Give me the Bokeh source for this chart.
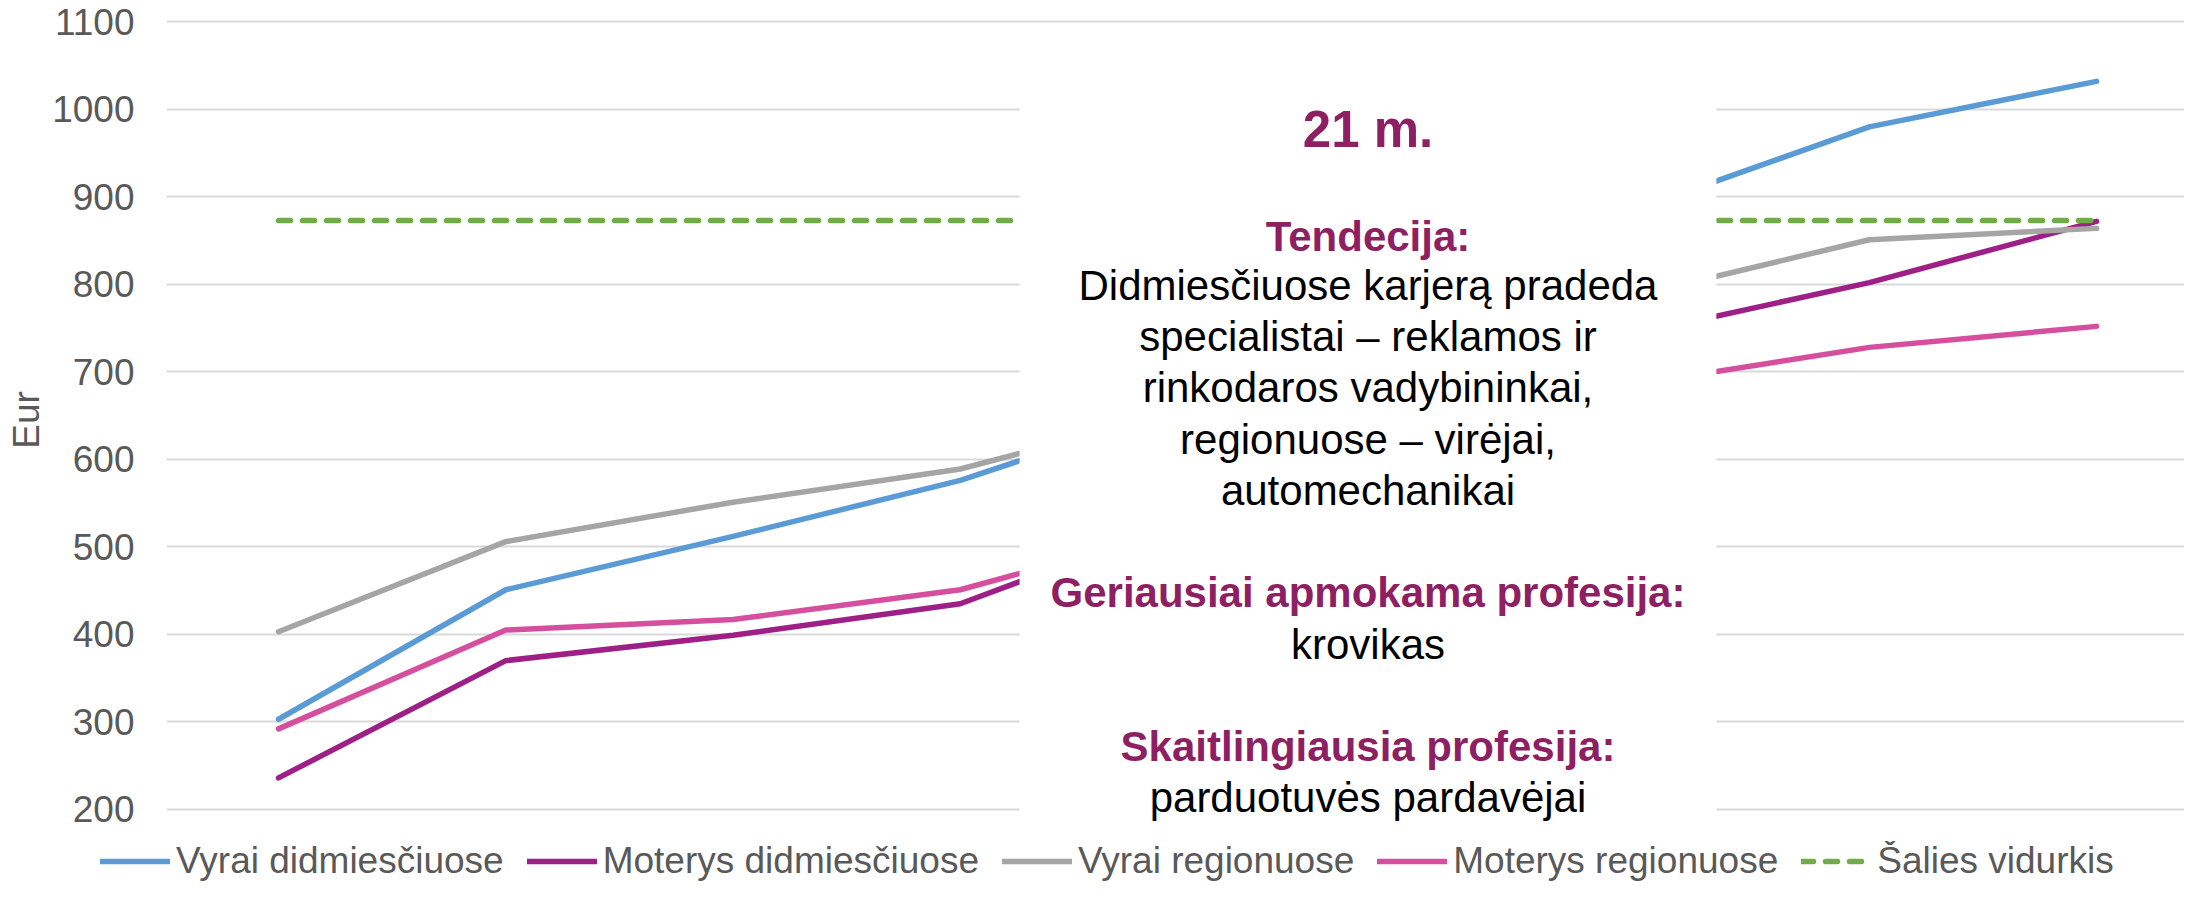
from bokeh.plotting import figure
from bokeh.layouts import column
from bokeh.models import (Range1d, FixedTicker, Legend, LegendItem, BoxAnnotation, Label)
from bokeh.embed import file_html
from bokeh.resources import INLINE

# ---------------- data ----------------
periods = [0, 1, 2, 3, 4, 5, 6, 7, 8]
vyrai_didm = [303, 451, 512, 576, 662, 772, 888, 980, 1032]
moterys_didm = [236, 370, 399, 435, 532, 640, 745, 802, 872]
vyrai_reg = [403, 506, 551, 589, 657, 722, 789, 851, 864]
moterys_reg = [292, 405, 417, 451, 522, 603, 687, 728, 752]
salies_vid = [873, 873, 873, 873, 873, 873, 873, 873, 873]
y_ticks = [200, 300, 400, 500, 600, 700, 800, 900, 1000, 1100]

series_names = ["Vyrai didmiesčiuose", "Moterys didmiesčiuose", "Vyrai regionuose",
                "Moterys regionuose", "Šalies vidurkis"]
series_colors = ["#5B9BD5", "#9E1F86", "#A5A5A5", "#D64F9E", "#70AD47"]
series_dash = ["solid", "solid", "solid", "solid", "12 12"]

box_title = "21 m."
box_lines = [
    ("Tendecija:", True),
    ("Didmiesčiuose karjerą pradeda", False),
    ("specialistai – reklamos ir", False),
    ("rinkodaros vadybininkai,", False),
    ("regionuose – virėjai,", False),
    ("automechanikai", False),
    ("Geriausiai apmokama profesija:", True),
    ("krovikas", False),
    ("Skaitlingiausia profesija:", True),
    ("parduotuvės pardavėjai", False),
]
box_line_y = [855, 798.6, 740.7, 682, 623, 564.3, 448, 388.5, 272, 213.7]

FONT = "Liberation Sans"
HEAD = "#8E1F63"
GREY_TXT = "#595959"

all_series = [vyrai_didm, moterys_didm, vyrai_reg, moterys_reg, salies_vid]

# ---------------- main chart ----------------
p = figure(width=2184, height=841, output_backend="svg", toolbar_location=None,
           x_range=Range1d(-0.493, 8.387), y_range=Range1d(185, 1105),
           min_border_left=166, min_border_right=0, min_border_top=17, min_border_bottom=19)
p.frame_align = False
p.outline_line_color = None
p.background_fill_color = "white"
p.border_fill_color = "white"

p.xaxis.visible = False
p.xgrid.visible = False

yax = p.yaxis[0]
yax.ticker = FixedTicker(ticks=y_ticks)
yax.axis_line_color = None
yax.major_tick_line_color = None
yax.minor_tick_line_color = None
yax.major_tick_out = 0
yax.major_tick_in = 0
yax.major_label_standoff = 32
yax.major_label_text_font = FONT
yax.major_label_text_font_size = "37px"
yax.major_label_text_color = GREY_TXT
yax.axis_label = "Eur"
yax.axis_label_text_font = FONT
yax.axis_label_text_font_size = "37px"
yax.axis_label_text_font_style = "normal"
yax.axis_label_text_color = GREY_TXT
yax.axis_label_standoff = 2

p.ygrid.ticker = FixedTicker(ticks=y_ticks)
p.ygrid.grid_line_color = "#D9D9D9"
p.ygrid.grid_line_width = 2

for ys, col, dash in zip(all_series, series_colors, series_dash):
    p.line(periods, ys, line_color=col, line_width=5.5, line_dash=dash,
           line_join="round", line_cap="round")

# white text box covering the middle
box = BoxAnnotation(left=3.261, right=6.327, top=1088, bottom=150,
                    fill_color="white", fill_alpha=1.0, line_color=None)
p.add_layout(box)

cx = (3.261 + 6.327) / 2
p.add_layout(Label(x=cx, y=977, text=box_title, text_align="center", text_baseline="alphabetic",
                   text_font=FONT, text_font_size="51px", text_font_style="bold", text_color=HEAD))
for (txt, bold), yy in zip(box_lines, box_line_y):
    p.add_layout(Label(x=cx, y=yy, text=txt, text_align="center", text_baseline="alphabetic",
                       text_font=FONT, text_font_size="42px",
                       text_font_style="bold" if bold else "normal",
                       text_color=HEAD if bold else "black"))

# ---------------- legend strip ----------------
p2 = figure(width=2184, height=41, output_backend="svg", toolbar_location=None,
            x_range=Range1d(0, 1), y_range=Range1d(0, 1),
            min_border_left=0, min_border_right=0, min_border_top=0, min_border_bottom=0)
p2.frame_align = False
p2.outline_line_color = None
p2.axis.visible = False
p2.grid.visible = False
p2.background_fill_color = "white"
p2.border_fill_color = "white"

# same series drawn in the strip (outside its visible range) so the legend has real glyphs
leg_renderers = []
for ys, col, dash in zip(all_series, series_colors, series_dash):
    leg_renderers.append(p2.line(periods, ys, line_color=col, line_width=5.5, line_dash=dash,
                                 line_cap="round"))

legend = Legend(items=[LegendItem(label=n, renderers=[rr]) for n, rr in zip(series_names, leg_renderers)],
                orientation="horizontal", location=(100, 0),
                glyph_width=70, glyph_height=20, label_standoff=6, spacing=23,
                padding=0, margin=0, border_line_color=None, background_fill_alpha=0,
                label_text_font=FONT, label_text_font_size="37px", label_text_color=GREY_TXT)
p2.add_layout(legend, "center")

layout = column(p, p2, spacing=0)
open("out.html", "w").write(file_html(layout, INLINE))
